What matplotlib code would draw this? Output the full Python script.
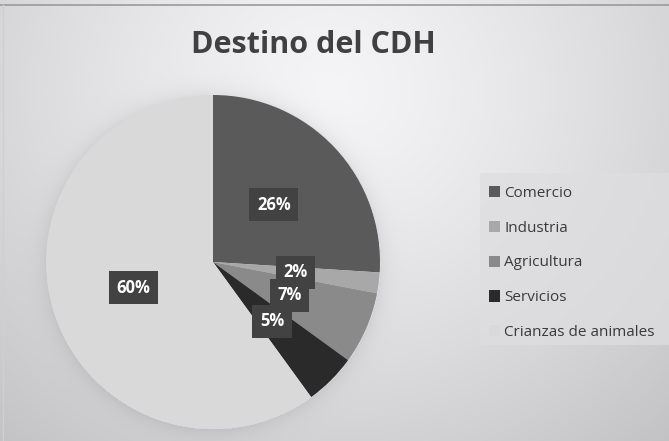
import numpy as np
import matplotlib
matplotlib.use("Agg")
import matplotlib.pyplot as plt
from matplotlib.patches import Rectangle

categories = ["Comercio", "Industria", "Agricultura", "Servicios", "Crianzas de animales"]
values = [26, 2, 7, 5, 60]
colors = ["#5a5a5a", "#a8a8a8", "#8a8a8a", "#2a2a2a", "#d9d9d9"]
title = "Destino del CDH"

W, H = 669, 441
fig = plt.figure(figsize=(W / 100, H / 100), dpi=100)

cx, cy, r = 213, 262, 167

# background gradient with soft shadow around the pie
bg = fig.add_axes([0, 0, 1, 1])
yy, xx = np.mgrid[0:H, 0:W]
d = np.sqrt(((xx - 330) / 430.0) ** 2 + ((yy - 90) / 400.0) ** 2)
img = 0.96 - 0.16 * np.clip(d, 0, 1.3) ** 1.3
dist = np.sqrt((xx - cx) ** 2 + (yy - cy) ** 2) - r
shadow = np.where(dist > 0, np.exp(-dist / 9.0), 0.0)
img = img - 0.06 * shadow
img = np.clip(img, 0.70, 0.98)
rgb = np.dstack([img, img, np.clip(img + 0.008, 0, 1)])
bg.imshow(rgb, extent=[0, W, H, 0], aspect="auto")
bg.add_patch(Rectangle((480, 173), W - 480, 345 - 173, facecolor="#dedee0",
                       edgecolor="none", alpha=0.75))
bg.plot([0, W], [5, 5], color="#9a9a9a", lw=1.2)
bg.plot([3, 3], [5, H], color="#cfcfcf", lw=1)
bg.set_xlim(0, W)
bg.set_ylim(H, 0)
bg.axis("off")

fig.text(313 / W, 1 - 45 / H, title, ha="center", va="center",
         fontsize=22, fontweight="bold", color="#404040", family="Open Sans")

# pie axes
ax = fig.add_axes([(cx - r) / W, 1 - (cy + r) / H, 2 * r / W, 2 * r / H])
wedges, texts, autotexts = ax.pie(
    values, colors=colors, startangle=90, counterclock=False,
    autopct=lambda p: f"{p:.0f}%", pctdistance=0.5, radius=1,
    wedgeprops=dict(linewidth=0),
    textprops=dict(color="white", fontsize=12, fontweight="bold", family="Open Sans"))
for t in autotexts:
    t.set_bbox(dict(boxstyle="square,pad=0.45", facecolor="#424242", edgecolor="none"))
ax.set_xlim(-1, 1)
ax.set_ylim(-1, 1)
ax.set_aspect("equal")
ax.axis("off")

leg = fig.legend(wedges, categories, loc="upper left",
                 bbox_to_anchor=(475 / W, 1 - 172 / H), frameon=False,
                 prop=dict(family="Open Sans", size=11), labelcolor="#3a3a3a",
                 handlelength=0.75, handleheight=0.75, handletextpad=0.25,
                 labelspacing=1.3)

fig.savefig("out.png", dpi=100)
